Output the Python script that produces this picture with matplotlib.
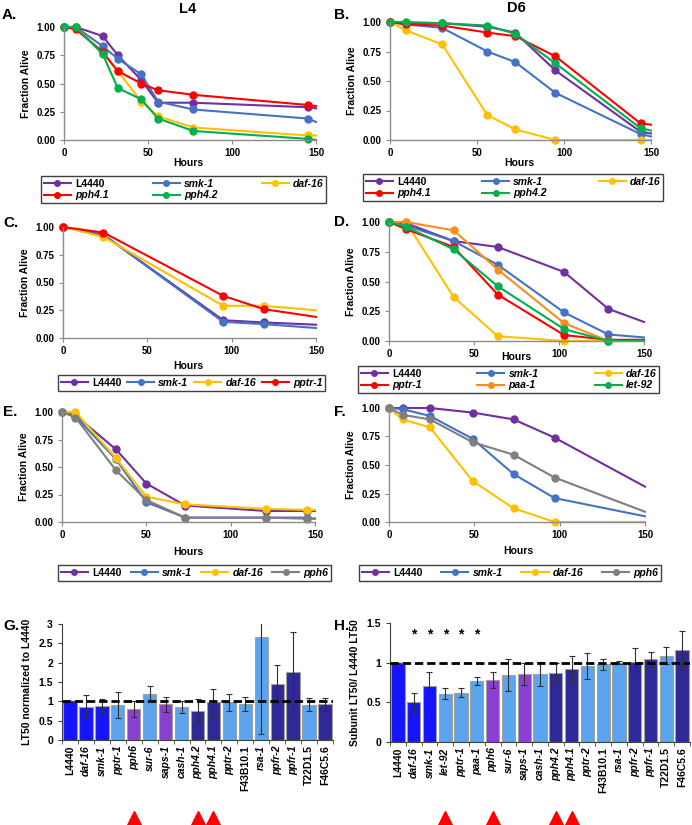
import matplotlib
matplotlib.use("Agg")
import matplotlib.pyplot as plt
import matplotlib.transforms as mtransforms
from matplotlib.lines import Line2D
import numpy as np

# ---- survival curves (last point = value where the line meets the 150 h edge, no marker)
a_hours = [0, 7, 23, 32, 46, 56, 77, 145, 150]
a_L4440 = [1.0, 1.0, 0.92, 0.75, 0.53, 0.33, 0.33, 0.29, 0.28]
a_smk1 = [1.0, 1.0, 0.83, 0.72, 0.58, 0.34, 0.27, 0.19, 0.16]
a_daf16 = [1.0, 1.0, 0.77, 0.61, 0.34, 0.21, 0.11, 0.04, 0.04]
a_pph41 = [1.0, 0.98, 0.78, 0.61, 0.50, 0.44, 0.40, 0.31, 0.30]
a_pph42 = [1.0, 1.0, 0.76, 0.46, 0.36, 0.19, 0.08, 0.01, 0.0]

b_hours = [0, 9, 30, 56, 72, 95, 144, 150]
b_L4440 = [1.0, 0.99, 0.99, 0.96, 0.91, 0.59, 0.07, 0.055]
b_smk1 = [1.0, 0.98, 0.95, 0.75, 0.66, 0.40, 0.05, 0.03]
b_daf16 = [1.0, 0.93, 0.81, 0.21, 0.09, 0.0, 0.0, 0.0]
b_pph41 = [1.0, 0.98, 0.97, 0.91, 0.88, 0.71, 0.14, 0.13]
b_pph42 = [1.0, 1.0, 0.99, 0.97, 0.90, 0.65, 0.10, 0.08]

c_hours = [0, 24, 95, 119, 150]
c_L4440 = [1.0, 0.93, 0.16, 0.14, 0.12]
c_smk1 = [1.0, 0.93, 0.145, 0.125, 0.09]
c_daf16 = [1.0, 0.91, 0.29, 0.29, 0.25]
c_pptr1 = [1.0, 0.95, 0.38, 0.26, 0.19]

d_hours = [0, 10, 38, 64, 103, 129, 150]
d_L4440 = [1.0, 0.99, 0.84, 0.79, 0.58, 0.27, 0.16]
d_smk1 = [1.0, 0.97, 0.84, 0.64, 0.24, 0.055, 0.03]
d_daf16 = [1.0, 1.0, 0.37, 0.04, 0.0, 0.0, 0.0]
d_pptr1 = [1.0, 0.94, 0.79, 0.39, 0.05, 0.01, 0.01]
d_paa1 = [1.0, 1.0, 0.93, 0.60, 0.15, 0.0, 0.0]
d_let92 = [1.0, 0.96, 0.77, 0.46, 0.10, 0.0, 0.0]

e_hours = [0, 8, 32, 50, 73, 121, 145, 150]
e_L4440 = [1.0, 0.97, 0.66, 0.35, 0.15, 0.10, 0.10, 0.10]
e_smk1 = [1.0, 0.96, 0.57, 0.18, 0.04, 0.04, 0.04, 0.03]
e_daf16 = [1.0, 1.0, 0.58, 0.23, 0.16, 0.12, 0.11, 0.11]
e_pph6 = [1.0, 0.95, 0.47, 0.20, 0.04, 0.04, 0.03, 0.03]

f_hours = [0, 8, 24, 49, 73, 97, 150]
f_L4440 = [1.0, 1.0, 1.0, 0.96, 0.90, 0.74, 0.31]
f_smk1 = [1.0, 0.99, 0.93, 0.73, 0.42, 0.21, 0.05]
f_daf16 = [1.0, 0.90, 0.83, 0.36, 0.12, 0.0, 0.0]
f_pph6 = [1.0, 0.94, 0.90, 0.70, 0.59, 0.39, 0.09]

# ---- LT50 bars
g_genes = ['L4440', 'daf-16', 'smk-1', 'pptr-1', 'pph6', 'sur-6', 'saps-1', 'cash-1',
           'pph4.2', 'pph4.1', 'pptr-2', 'F43B10.1', 'rsa-1', 'ppfr-2', 'ppfr-1',
           'T22D1.5', 'F46C5.6']
g_lt50 = [1.0, 0.85, 0.89, 0.91, 0.81, 1.2, 0.92, 0.85, 0.76, 0.97, 0.98, 0.94,
          2.66, 1.46, 1.75, 0.91, 0.92]
g_err = [0, 0.31, 0.17, 0.34, 0.21, 0.2, 0.2, 0.15, 0.3, 0.35, 0.22, 0.18,
         2.5, 0.48, 1.04, 0.17, 0.17]
g_class = ['ctrl', 'ctrl', 'ctrl', 'reg', 'cat', 'reg', 'cat', 'reg', 'other', 'other',
           'reg', 'reg', 'reg', 'other', 'other', 'reg', 'other']
g_marked = ['pph6', 'pph4.2', 'pph4.1']

h_genes = ['L4440', 'daf-16', 'smk-1', 'let-92', 'pptr-1', 'paa-1', 'pph6', 'sur-6',
           'saps-1', 'cash-1', 'pph4.2', 'pph4.1', 'pptr-2', 'F43B10.1', 'rsa-1',
           'ppfr-2', 'ppfr-1', 'T22D1.5', 'F46C5.6']
h_lt50 = [1.0, 0.50, 0.71, 0.61, 0.62, 0.77, 0.78, 0.84, 0.86, 0.86, 0.87, 0.92,
          0.96, 0.98, 1.0, 1.01, 1.04, 1.09, 1.16]
h_err = [0, 0.12, 0.17, 0.07, 0.055, 0.05, 0.1, 0.2, 0.14, 0.15, 0.13, 0.17,
         0.16, 0.07, 0.02, 0.17, 0.09, 0.11, 0.24]
h_class = ['ctrl', 'ctrl', 'ctrl', 'reg', 'reg', 'reg', 'cat', 'reg', 'cat', 'reg',
           'other', 'other', 'reg', 'reg', 'reg', 'other', 'other', 'reg', 'other']
h_signif = ['daf-16', 'smk-1', 'let-92', 'pptr-1', 'paa-1']
h_marked = ['let-92', 'pph6', 'pph4.2', 'pph4.1']

plain = ['L4440', 'F43B10.1', 'T22D1.5', 'F46C5.6']

col = {'L4440': '#7030A0', 'smk-1': '#4472C4', 'daf-16': '#FFC000', 'pph4.1': '#FF0000',
       'pph4.2': '#00B050', 'pptr-1': '#FF0000', 'paa-1': '#FF8C1A', 'let-92': '#00B050',
       'pph6': '#7F7F7F'}
barcol = {'ctrl': '#1414FF', 'reg': '#5AA5EE', 'cat': '#8B3FD2', 'other': '#2F2898'}

plt.rcParams['font.family'] = ['Liberation Sans', 'DejaVu Sans']
plt.rcParams['font.weight'] = 'bold'
plt.rcParams['axes.labelweight'] = 'bold'

W, H = 692, 825
fig = plt.figure(figsize=(6.92, 8.25), dpi=100)


def box(l, t, r, b):
    return [l / W, 1 - b / H, (r - l) / W, (b - t) / H]


def survival(rect, hours, series, names, hx, hy):
    ax = fig.add_axes(box(*rect))
    n = len(hours)
    for name, vals in zip(names, series):
        ax.plot(hours, vals, color=col[name], lw=1.5, marker='o', ms=5,
                markevery=list(range(n - 1)), clip_on=False)
    ax.set_xlim(0, 150)
    ax.set_ylim(0, 1)
    ax.set_xticks([0, 50, 100, 150])
    ax.set_yticks([0, 0.25, 0.5, 0.75, 1.0])
    ax.yaxis.set_major_formatter('{x:.2f}')
    for s in ['top', 'right']:
        ax.spines[s].set_visible(False)
    for s in ['left', 'bottom']:
        ax.spines[s].set_color('#8C8C8C')
        ax.spines[s].set_linewidth(1)
    ax.tick_params(labelsize=7, length=3, color='#8C8C8C', pad=3)
    ax.set_ylabel('Fraction Alive', fontsize=7.5, labelpad=4)
    fig.text(hx / W, 1 - hy / H, 'Hours', fontsize=7.5, ha='center', va='center')
    return ax


def legend(order, ncol, rect):
    handles = [Line2D([], [], color=col[n], lw=1.5, marker='o', ms=4) for n in order]
    leg = fig.legend(handles, order, loc='center', bbox_to_anchor=tuple(box(*rect)),
                     mode='expand', ncol=ncol, fontsize=7.5, fancybox=False,
                     edgecolor='#404040', framealpha=1, handlelength=2.6,
                     borderpad=0.25, labelspacing=0.15, handletextpad=0.4,
                     borderaxespad=0, numpoints=1, columnspacing=1.0)
    leg.get_frame().set_linewidth(1)
    for t in leg.get_texts():
        if t.get_text() not in plain:
            t.set_fontstyle('italic')


# A / B
survival((64, 27, 316, 140), a_hours, [a_L4440, a_smk1, a_daf16, a_pph41, a_pph42],
         ['L4440', 'smk-1', 'daf-16', 'pph4.1', 'pph4.2'], 188, 163)
legend(['L4440', 'pph4.1', 'smk-1', 'pph4.2', 'daf-16'], 3, (41, 173, 326, 206))
survival((390, 22, 651, 140), b_hours, [b_L4440, b_smk1, b_daf16, b_pph41, b_pph42],
         ['L4440', 'smk-1', 'daf-16', 'pph4.1', 'pph4.2'], 519, 163)
legend(['L4440', 'pph4.1', 'smk-1', 'pph4.2', 'daf-16'], 3, (363, 173, 663, 202))

# C / D
survival((63, 227, 316, 338), c_hours, [c_L4440, c_smk1, c_daf16, c_pptr1],
         ['L4440', 'smk-1', 'daf-16', 'pptr-1'], 188, 366)
legend(['L4440', 'smk-1', 'daf-16', 'pptr-1'], 4, (58, 376, 325, 390))
survival((389, 222, 644, 341), d_hours, [d_L4440, d_smk1, d_daf16, d_pptr1, d_paa1, d_let92],
         ['L4440', 'smk-1', 'daf-16', 'pptr-1', 'paa-1', 'let-92'], 516, 357)
legend(['L4440', 'pptr-1', 'smk-1', 'paa-1', 'daf-16', 'let-92'], 3, (358, 365, 659, 394))

# E / F
survival((62, 412, 315, 522), e_hours, [e_L4440, e_smk1, e_daf16, e_pph6],
         ['L4440', 'smk-1', 'daf-16', 'pph6'], 188, 552)
legend(['L4440', 'smk-1', 'daf-16', 'pph6'], 4, (58, 564, 331, 582))
survival((389, 408, 645, 522), f_hours, [f_L4440, f_smk1, f_daf16, f_pph6],
         ['L4440', 'smk-1', 'daf-16', 'pph6'], 518, 551)
legend(['L4440', 'smk-1', 'daf-16', 'pph6'], 4, (359, 564, 661, 582))


def bars(rect, genes, vals, errs, classes, ymax, step, ylabel, marked, signif=()):
    ax = fig.add_axes(box(*rect))
    x = np.arange(len(genes))
    ax.bar(x, vals, width=0.84, color=[barcol[c] for c in classes], edgecolor='#A0A0A0',
           lw=0.8, yerr=errs, zorder=2,
           error_kw=dict(ecolor='#303030', elinewidth=0.8, capsize=2.5, capthick=0.8))
    ax.axhline(1, color='black', lw=2, ls=(0, (3, 1.4)), zorder=3)
    ax.set_xlim(-0.5, len(genes) - 0.5)
    ax.set_ylim(0, ymax)
    ax.set_yticks(np.arange(0, ymax + step / 2, step))
    ax.yaxis.set_major_formatter('{x:g}')
    ax.set_xticks(x, genes, rotation=90, fontsize=7.5)
    for t in ax.get_xticklabels():
        if t.get_text() not in plain:
            t.set_fontstyle('italic')
    ax.set_xticks(np.arange(-0.5, len(genes)), minor=True)
    ax.tick_params(axis='x', which='major', length=0, pad=4)
    ax.tick_params(axis='x', which='minor', length=3, color='#404040')
    ax.tick_params(axis='y', labelsize=7.5, length=3, color='#404040')
    for s in ['top', 'right']:
        ax.spines[s].set_visible(False)
    for s in ['left', 'bottom']:
        ax.spines[s].set_color('#404040')
    ax.set_ylabel(ylabel, fontsize=7.5, labelpad=5)
    for g in signif:
        ax.text(genes.index(g), 1.35, '*', ha='center', va='center', fontsize=10)
    tr = mtransforms.blended_transform_factory(ax.transData, fig.transFigure)
    mx = [genes.index(g) for g in marked]
    ax.plot(mx, [1 - 818 / H] * len(mx), ls='none', marker='^', ms=10, color='#FF0000',
            transform=tr, clip_on=False)
    return ax


bars((62, 624, 333, 740), g_genes, g_lt50, g_err, g_class, 3, 0.5,
     'LT50 normalized to L4440', g_marked)
bars((390, 623, 690, 742), h_genes, h_lt50, h_err, h_class, 1.5, 0.5,
     'Subunit LT50/ L4440 LT50', h_marked, h_signif)

# panel letters and titles
for lab, px, py in [('A.', 2, 15), ('B.', 334, 15), ('C.', 3, 223), ('D.', 334, 222),
                    ('E.', 3, 412), ('F.', 334, 412), ('G.', 3, 626), ('H.', 334, 626)]:
    fig.text(px / W, 1 - py / H, lab, fontsize=11, ha='left', va='center')
fig.text(188 / W, 1 - 9 / H, 'L4', fontsize=10.5, ha='center', va='center')
fig.text(516 / W, 1 - 8 / H, 'D6', fontsize=10.5, ha='center', va='center')

fig.savefig('out.png', dpi=100)
